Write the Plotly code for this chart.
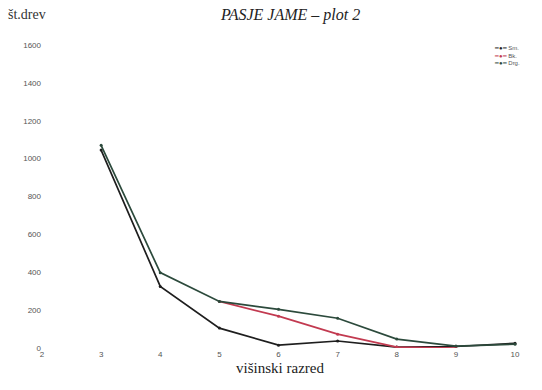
import plotly.graph_objects as go

razred = [3, 4, 5, 6, 7, 8, 9, 10]
serija_1 = [1070, 398, 246, 204, 157, 47, 10, 20]
serija_2 = [None, None, 246, 168, 73, 5, 0, None]
serija_3 = [1045, 325, 105, 15, 37, 5, 8, 25]
imena = ["Sm.", "Bk.", "Drg."]
barve = ["#1e1e1e", "#c23a50", "#2c4a3c"]
x_ticks = [2, 3, 4, 5, 6, 7, 8, 9, 10]
y_ticks = [0, 200, 400, 600, 800, 1000, 1200, 1400, 1600]

fig = go.Figure()
for ys, name, c in [(serija_3, imena[0], barve[0]), (serija_2, imena[1], barve[1]), (serija_1, imena[2], barve[2])]:
    fig.add_trace(go.Scatter(x=razred, y=ys, name=name, mode="lines+markers",
                             line=dict(color=c, width=1.7),
                             marker=dict(size=3, color=c)))

fig.update_layout(
    width=542, height=390,
    margin=dict(l=42, r=24, t=45, b=42, autoexpand=False),
    paper_bgcolor="white", plot_bgcolor="white",
    showlegend=False,
    font=dict(family="Liberation Sans", size=8, color="#555"),
)
fig.update_xaxes(range=[2, 10.05], tickvals=x_ticks, ticks="", showgrid=False,
                 zeroline=False, showline=False, tickfont=dict(size=8, color="#555"),
                 title=dict(text="višinski razred", font=dict(family="Liberation Serif", size=15, color="#222"),
                            standoff=4))
fig.update_yaxes(range=[0, 1600], tickvals=y_ticks, ticks="", showgrid=False,
                 zeroline=False, showline=False,
                 tickfont=dict(size=8, color="#555"))

# compact legend
for i, (name, c) in enumerate(zip(imena, barve)):
    fig.add_annotation(text=f"<span style='color:{c}'>━●━</span> {name}",
                       xref="paper", yref="paper", x=0.945, y=0.99 - i * 0.025,
                       xanchor="left", yanchor="middle", showarrow=False,
                       font=dict(size=6, color="#555", family="Liberation Sans"))

fig.add_annotation(text="<i>PASJE JAME – plot 2</i>", xref="paper", yref="paper",
                   x=0.52, y=1.10, showarrow=False, yanchor="middle",
                   font=dict(family="Liberation Serif", size=16, color="#222"))
fig.add_annotation(text="št.drev", xref="paper", yref="paper",
                   x=-0.075, y=1.10, xanchor="left", showarrow=False, yanchor="middle",
                   font=dict(family="Liberation Serif", size=14, color="#333"))

fig.write_html("out.html")
